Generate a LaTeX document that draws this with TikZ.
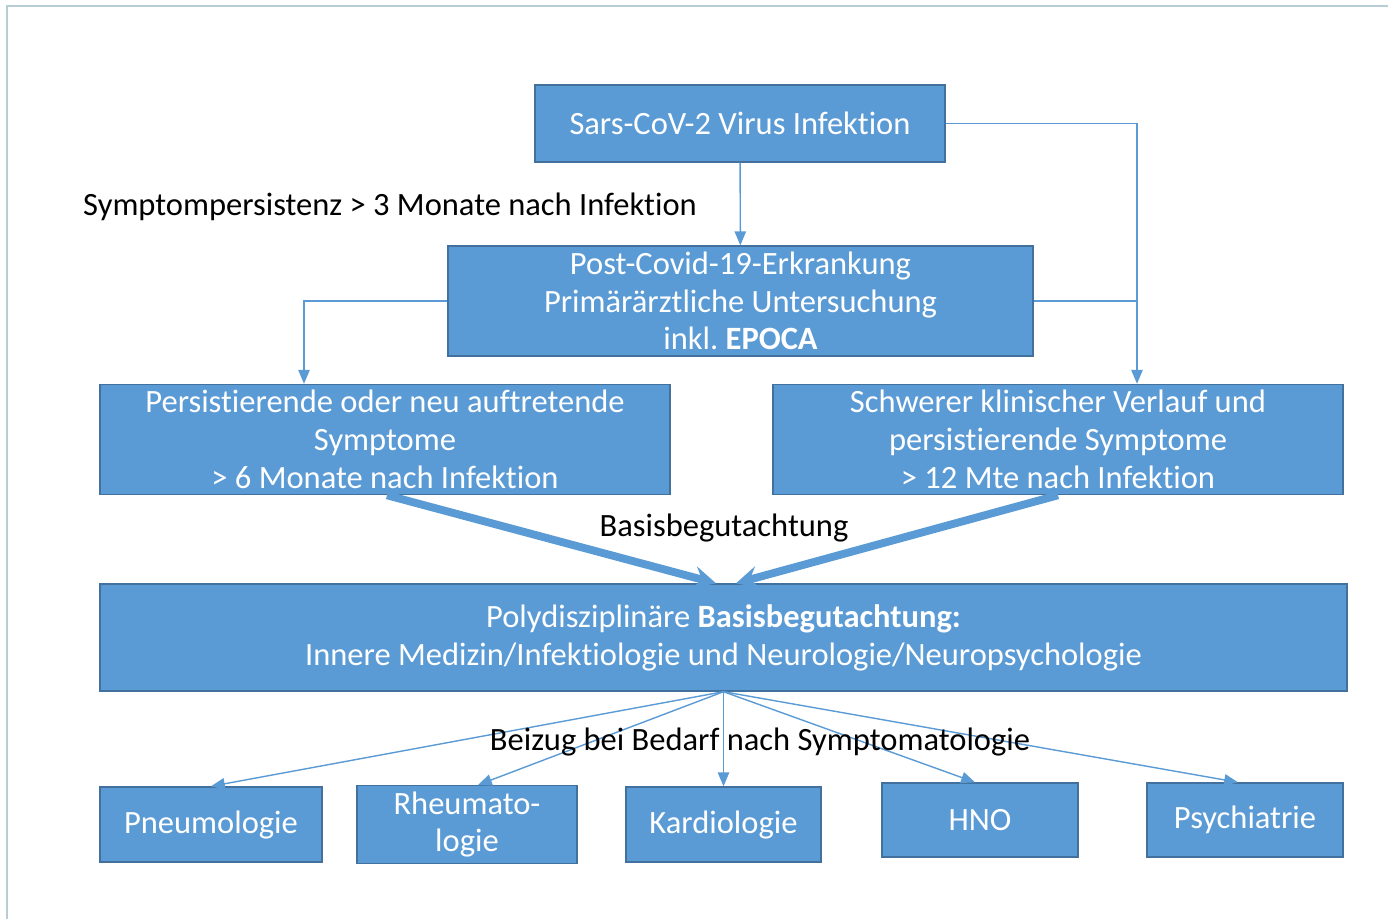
\documentclass[tikz,border=0pt]{standalone}
\usepackage{fontspec}
\setmainfont[Ligatures=NoCommon]{Carlito}
\usetikzlibrary{shapes, arrows}
\definecolor{boxblue}{HTML}{5B9BD5}
\definecolor{boxline}{HTML}{41719C}
\definecolor{framecol}{HTML}{B8CCD6}
\tikzstyle{process} = [rectangle, 
draw=boxline, 
line width=0.8pt, 
fill=boxblue, 
text=white, 
text centered, 
align=center, 
font=\fontsize{18.5}{21.5}\selectfont]
\tikzstyle{caption} = [text=black, font=\fontsize{18.5}{21.5}\selectfont]
\tikzstyle{arrow} = [line width=0.8pt, draw=boxblue, ->, >=triangle 45]
\tikzstyle{bigarrow} = [line width=4.5pt, draw=boxblue, ->, >=stealth]

\begin{document}
\begin{tikzpicture}

\useasboundingbox (0,0) rectangle (27.76,-18.38);
% frame
\draw [framecol, line width=0.8pt] (0.14,-18.38) -- (0.14,-0.12) -- (27.76,-0.12);

\node (infect) [process, minimum width=8.2cm, minimum height=1.54cm] at (14.8,-2.47) {Sars-CoV-2 Virus Infektion};
\node (post) [process, minimum width=11.7cm, minimum height=2.12cm] at (14.81,-6.02) {Post-Covid-19-Erkrankung\\Primärärztliche Untersuchung\\inkl.\ \textbf{EPOCA}};
\node (persist) [process, minimum width=11.4cm, minimum height=2.18cm] at (7.7,-8.79) {Persistierende oder neu auftretende\\Symptome\\> 6 Monate nach Infektion};
\node (severe) [process, minimum width=11.4cm, minimum height=2.18cm] at (21.16,-8.79) {Schwerer klinischer Verlauf und\\persistierende Symptome\\> 12 Mte nach Infektion};
\node (basis) [process, minimum width=24.94cm, minimum height=2.14cm] at (14.47,-12.75) {Polydisziplinäre \textbf{Basisbegutachtung:}\\Innere Medizin/Infektiologie und Neurologie/Neuropsychologie};

\node (pneu) [process, minimum width=4.44cm, minimum height=1.5cm] at (4.22,-16.49) {Pneumologie};
\node (rheu) [process, minimum width=4.4cm, minimum height=1.5cm] at (9.34,-16.49) {Rheumato-\\logie};
\node (kard) [process, minimum width=3.9cm, minimum height=1.5cm] at (14.47,-16.49) {Kardiologie};
\node (hno) [process, minimum width=3.92cm, minimum height=1.48cm] at (19.6,-16.4) {HNO};
\node (psych) [process, minimum width=3.92cm, minimum height=1.48cm] at (24.9,-16.4) {Psychiatrie};

\node (persistlabel) [caption] at (7.8,-4.14) {Symptompersistenz > 3 Monate nach Infektion};
\node (basislabel) [caption] at (14.48,-10.56) {Basisbegutachtung};

\draw [arrow] (infect) -- (post);
\draw [arrow] (infect.east) -| ([xshift=1.58cm]severe.north);
\draw [arrow, -] (post.east) -- ++(2.08,0);
\draw [arrow] (post.west) -| ([xshift=-1.62cm]persist.north);

\draw [bigarrow] ([xshift=0.04cm]persist.south) -- ([xshift=-0.15cm]basis.north);
\draw [bigarrow] (severe.south) -- ([xshift=0.25cm]basis.north);

\draw [arrow] (basis.south) -- (pneu.north);
\draw [arrow] (basis.south) -- ([xshift=0.22cm]rheu.north);
\draw [arrow] (basis.south) -- (kard.north);
\draw [arrow] (basis.south) -- ([xshift=-0.1cm]hno.north);
\draw [arrow] (basis.south) -- ([xshift=-0.14cm]psych.north);

\node (bedarflabel) [caption] at (15.2,-14.84) {Beizug bei Bedarf nach Symptomatologie};

\end{tikzpicture}
\end{document}
